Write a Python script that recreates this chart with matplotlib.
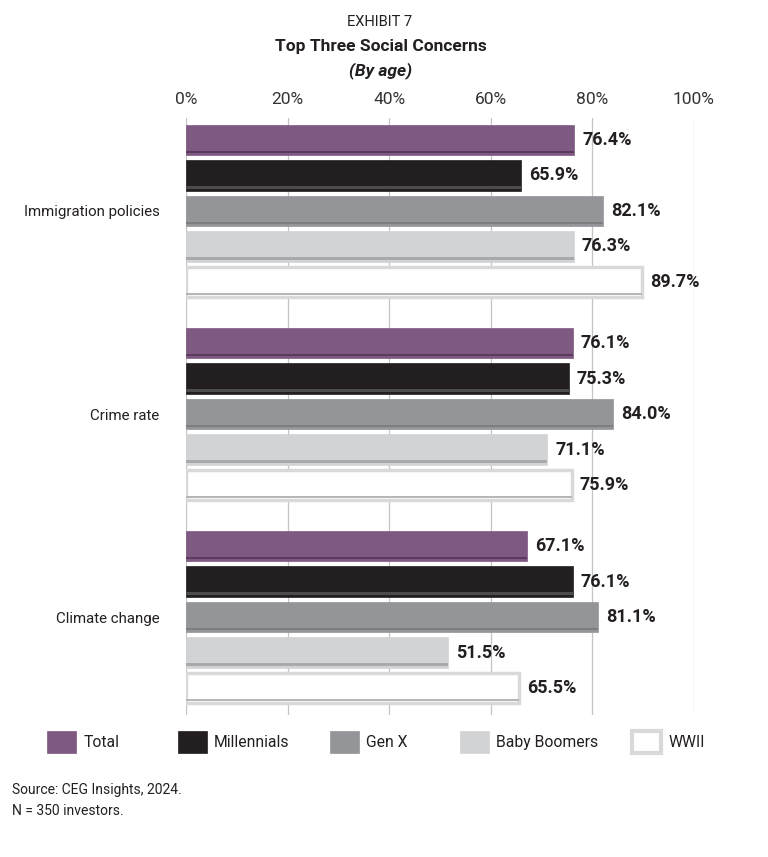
import matplotlib
matplotlib.use("Agg")
import matplotlib.pyplot as plt
import matplotlib.patches as mpatches
import numpy as np

plt.rcParams["font.family"] = ["Roboto", "DejaVu Sans"]

categories = ["Immigration policies", "Crime rate", "Climate change"]
series = ["Total", "Millennials", "Gen X", "Baby Boomers", "WWII"]
total = [76.4, 76.1, 67.1]
millennials = [65.9, 75.3, 76.1]
gen_x = [82.1, 84.0, 81.1]
baby_boomers = [76.3, 71.1, 51.5]
wwii = [89.7, 75.9, 65.5]
ticks = [0, 20, 40, 60, 80, 100]
tick_labels = ["0%", "20%", "40%", "60%", "80%", "100%"]

values = [total, millennials, gen_x, baby_boomers, wwii]
fills = ["#7e5a82", "#231f20", "#939598", "#d1d3d4", "#ffffff"]
shadows = ["#5b3a5e", "#4d4d4f", "#7d7e81", "#a7a9ac", "#b5b6b8"]
edges = ["#7e5a82", "#231f20", "#939598", "#d1d3d4", "#d9d9d9"]
TEXT = "#231f20"

GROUP_STEP = 5.72
BAR_H = 0.86

fig = plt.figure(figsize=(7.68, 8.57), dpi=100)
ax = fig.add_axes([186 / 768, 1 - 715 / 857, 508 / 768, (715 - 118) / 857])

group_pos = np.arange(len(categories)) * GROUP_STEP
for j, (vals, fc, sc, ec) in enumerate(zip(values, fills, shadows, edges)):
    ys = group_pos + j
    lw = 2.5 if j == 4 else 0.5
    ax.barh(ys, vals, height=BAR_H, color=fc, edgecolor=ec, linewidth=lw, zorder=2)
    # darker strip along the bottom of each bar
    ax.barh(ys + BAR_H / 2 - 0.09, vals, height=0.07, color=sc, linewidth=0, zorder=3)
    for y, v in zip(ys, vals):
        ax.annotate(f"{v:.1f}%", xy=(v, y), xytext=(6, 0), textcoords="offset points",
                    ha="left", va="center", fontsize=13, fontweight="bold", color=TEXT,
                    annotation_clip=False)

ax.set_xlim(0, 100)
ax.set_ylim(2 * GROUP_STEP + 4 + 0.76, -0.62)
ax.set_xticks(ticks)
ax.set_xticklabels(tick_labels, fontsize=12.5, color="#333333")
ax.xaxis.tick_top()
ax.tick_params(axis="x", length=0, pad=8)
ax.set_yticks(group_pos + 2)
ax.set_yticklabels(categories, fontsize=10.8, color=TEXT)
ax.tick_params(axis="y", length=0, pad=19)
ax.grid(axis="x", color="#c4c4c4", linewidth=0.9, zorder=0)
ax.set_axisbelow(True)
for s in ax.spines.values():
    s.set_visible(False)

# titles
fig.text(380 / 768, 1 - 22 / 857, "EXHIBIT 7", ha="center", va="center", fontsize=10.5, color=TEXT)
fig.text(381 / 768, 1 - 46 / 857, "Top Three Social Concerns", ha="center", va="center",
         fontsize=12.5, fontweight="bold", color=TEXT)
fig.text(381 / 768, 1 - 71 / 857, "(By age)", ha="center", va="center",
         fontsize=12.5, fontweight="bold", fontstyle="italic", color=TEXT)

# legend, one entry at a time to keep the uneven spacing
legend_x = [47, 178, 330, 460, 632]
for name, fc, ec, x in zip(series, fills, edges, legend_x):
    lw = 3 if name == "WWII" else 0.5
    handle = mpatches.Patch(facecolor=fc, edgecolor=ec, linewidth=lw, label=name)
    leg = fig.legend(handles=[handle], loc="center left", bbox_to_anchor=(x / 768, 1 - 742 / 857),
                     frameon=False, fontsize=11.3, handlelength=1.85, handleheight=1.85,
                     handletextpad=0.45, borderpad=0, borderaxespad=0)
    for t in leg.get_texts():
        t.set_color(TEXT)

fig.text(12 / 768, 1 - 790 / 857, "Source: CEG Insights, 2024.", ha="left", va="center",
         fontsize=10, color=TEXT)
fig.text(12 / 768, 1 - 811 / 857, "N = 350 investors.", ha="left", va="center",
         fontsize=10, color=TEXT)

fig.savefig("out.png", dpi=100, facecolor="#ffffff")
